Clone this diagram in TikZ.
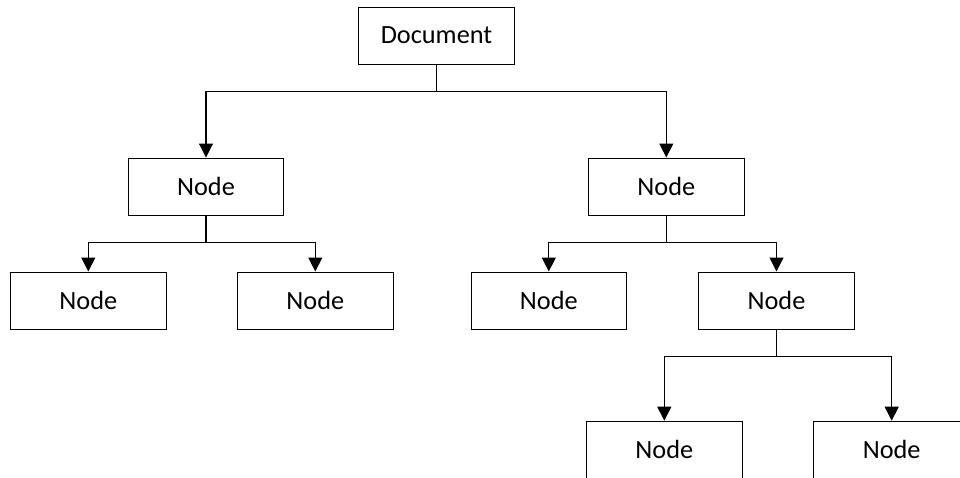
\documentclass[tikz,border=0pt]{standalone}
\usepackage{fontspec}
\setmainfont{Carlito}
\usetikzlibrary{arrows.meta}
\begin{document}
\begin{tikzpicture}[x=1pt,y=-1pt,
  box/.style={draw=black,line width=1pt,minimum width=155.5pt,minimum height=57pt,inner sep=0pt,font=\fontsize{26.3}{30}\selectfont},
  conn/.style={draw=black,line width=1.1pt},
  arr/.style={conn,-{Triangle[width=14pt,length=14pt]}}]
\clip (0,0) rectangle (960,477);
\useasboundingbox (0,0) rectangle (960,477);
\node[box] (doc) at (436.5,35.5) {Document};
\node[box] (l) at (206,186.5) {Node};
\node[box] (r) at (666.3,186.5) {Node};
\node[box] (ll) at (88.3,300.5) {Node};
\node[box] (lr) at (315.3,300.5) {Node};
\node[box] (rl) at (548.8,300.5) {Node};
\node[box] (rr) at (776.5,300.5) {Node};
\node[box] (rrl) at (664.3,449.7) {Node};
\node[box] (rrr) at (891.7,449.7) {Node};
\coordinate (j0) at (436.5,91.7);
\coordinate (j1) at (206,242.7);
\coordinate (j2) at (666.3,242.7);
\coordinate (j3) at (776.5,356.7);
\draw[conn] (doc.south) -- (j0);
\draw[arr] (j0) -| (l.north);
\draw[arr] (j0) -| (r.north);
\draw[conn] (l.south) -- (j1);
\draw[arr] (j1) -| (ll.north);
\draw[arr] (j1) -| (lr.north);
\draw[conn] (r.south) -- (j2);
\draw[arr] (j2) -| (rl.north);
\draw[arr] (j2) -| (rr.north);
\draw[conn] (rr.south) -- (j3);
\draw[arr] (j3) -| (rrl.north);
\draw[arr] (j3) -| (rrr.north);
\end{tikzpicture}
\end{document}
